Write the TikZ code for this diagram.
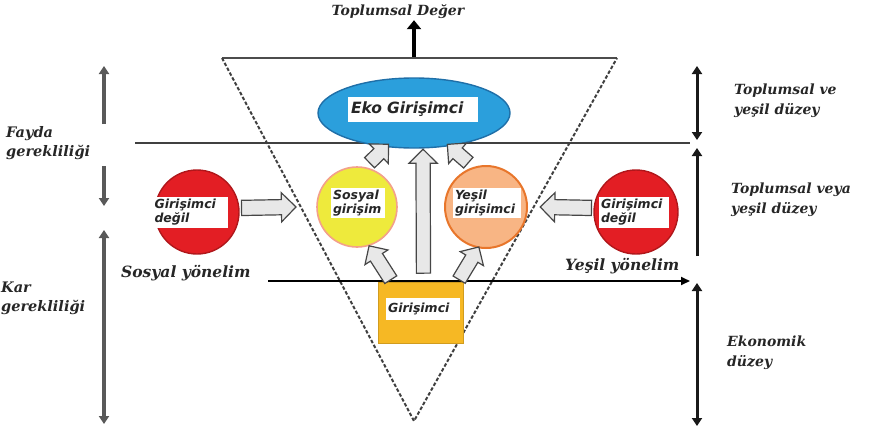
\documentclass[tikz,border=0pt]{standalone}
\usepackage{fontspec}
\setmainfont{DejaVu Serif}
\newfontfamily\lblfont{DejaVu Sans}
\usetikzlibrary{shapes.arrows,shapes.geometric,arrows.meta,calc}
\definecolor{ekoblue}{HTML}{2B9FDC}
\definecolor{ekoedge}{HTML}{1F6FA8}
\definecolor{redfill}{HTML}{E31E24}
\definecolor{rededge}{HTML}{B0171B}
\definecolor{yelfill}{HTML}{EEEA3C}
\definecolor{yeledge}{HTML}{F3A08A}
\definecolor{orfill}{HTML}{F8B584}
\definecolor{oredge}{HTML}{E8762B}
\definecolor{boxfill}{HTML}{F6B824}
\newcommand\blockarrow[3][]{%
  \path let \p1=(#2), \p2=(#3), \n1={atan2(\y2-\y1,\x2-\x1)}, \n2={veclen(\x2-\x1,\y2-\y1)} in
    node[barrow=\n2, rotate=\n1, #1] at ($(#2)!0.5!(#3)$) {};}
\begin{document}
\begin{tikzpicture}[x=1pt,y=-1pt,
  lbl/.style={font=\bfseries\itshape\fontsize{14}{20}\selectfont, align=left, inner sep=1pt, text=black!85},
  inlbl/.style={fill=white, font=\lblfont\bfseries\itshape\fontsize{12.5}{14}\selectfont, align=left, inner sep=2pt, text=black!85},
  arr/.style={-{Triangle[length=8pt,width=10pt]}},
  darr/.style={{Triangle[length=8pt,width=10pt]}-{Triangle[length=8pt,width=10pt]}},
  dimL/.style={line width=3.2pt, draw=black!65},
  dimR/.style={line width=3pt, draw=black!90},
  barrow/.style={single arrow, draw=gray!55!black, fill=gray!18, line width=1.2pt, inner xsep=0pt, inner ysep=7pt, single arrow head extend=7pt, minimum height=#1},
  tri/.style={draw=black!75, line width=2pt, dash pattern=on 3.5pt off 2pt}
]
\useasboundingbox (0,0) rectangle (877,431);

% triangle
\coordinate (tl) at (222,58);
\coordinate (tr) at (617,58);
\coordinate (tb) at (414,421);
\draw[draw=black!70, line width=1.8pt] (tl) -- (tr);
\draw[tri] (tl) -- (tb) -- (tr);

% top arrow
\node[lbl] (tv) at (398,12) {Toplumsal Değer};
\coordinate (tm) at (414,57);
\draw[line width=4.5pt, -{Triangle[length=9pt,width=14pt]}] (tm) -- (tv.south -| tm);

% horizontal divider
\coordinate (hl) at (135,143);
\coordinate (hr) at (690,143);
\draw[draw=black!75, line width=1.8pt] (hl) -- (hr);

% Eko Girisimci ellipse
\node[ellipse, fill=ekoblue, draw=ekoedge, line width=1.4pt, minimum width=192pt, minimum height=70pt] (eko) at (414,113) {};
\node[inlbl, font=\lblfont\bfseries\itshape\fontsize{15.5}{17}\selectfont, minimum width=130pt, minimum height=25pt, text width=124pt] (ekot) at (413,109) {Eko Girişimci};

% red circles
\node[circle, fill=redfill, draw=rededge, line width=1.4pt, minimum size=84pt, inner sep=0] (lr) at (197,212) {};
\node[inlbl, text width=71pt, minimum height=31pt] (lrt) at (190,212) {Girişimci\\değil};
\node[circle, fill=redfill, draw=rededge, line width=1.4pt, minimum size=84pt, inner sep=0] (rr) at (636,212) {};
\node[inlbl, text width=66pt, minimum height=31pt] (rrt) at (634,212) {Girişimci\\değil};

% yellow circle
\node[circle, fill=yelfill, draw=yeledge, line width=1.6pt, minimum size=80pt, inner sep=0] (yc) at (357,207) {};
\node[inlbl, text width=50pt] (yct) at (358,203) {Sosyal\\girişim};

% orange circle
\node[circle, fill=orfill, draw=oredge, line width=2pt, minimum size=82pt, inner sep=0] (oc) at (486,207) {};
\node[inlbl, text width=64pt] (oct) at (487,203) {Yeşil\\girişimci};

% Girisimci box
\node[rectangle, fill=boxfill, draw=boxfill!85!black, line width=0.6pt, minimum width=85pt, minimum height=61pt, inner sep=0] (gb) at (420.5,312.5) {};
\node[inlbl, text width=70pt, minimum height=22pt] (gbt) at (423,309) {Girişimci};

% yonelim line
\node[lbl, anchor=west, font=\bfseries\itshape\fontsize{15.5}{18}\selectfont] (sy) at (120,273) {Sosyal yönelim};
\node[lbl, anchor=west, font=\bfseries\itshape\fontsize{15.5}{18}\selectfont] (gy) at (564,266) {Yeşil yönelim};
\coordinate (yl) at (268,281);
\coordinate (yr) at (690,281);
\draw[line width=1.8pt, -{Triangle[length=9pt,width=8pt]}] (yl) -- (yr);

% block arrows
\coordinate (a1s) at ($(lr.east)+(-2,-4)$);
\coordinate (a1e) at ($(yc.west)+(-24,-0)$);
\blockarrow{a1s}{a1e}
\coordinate (a2s) at ($(rr.west)+(2,-4)$);
\coordinate (a2e) at ($(oc.east)+(16,0)$);
\blockarrow{a2s}{a2e}
\coordinate (a3s) at ($(gb.north)+(3,-5)$);
\coordinate (a3e) at ($(eko.south)+(9,4)$);
\blockarrow[inner ysep=6.5pt]{a3s}{a3e}
\coordinate (a4s) at ($(gb.north west)+(15,1)$);
\coordinate (a4e) at ($(yc.south)+(14,1)$);
\blockarrow[inner ysep=6.5pt, single arrow head extend=6.5pt]{a4s}{a4e}
\coordinate (a5s) at ($(gb.north east)+(-6,1)$);
\coordinate (a5e) at ($(oc.south)+(-9,1)$);
\blockarrow[inner ysep=6.5pt, single arrow head extend=6.5pt]{a5s}{a5e}
\coordinate (a6s) at ($(yc.north)+(10,-1)$);
\coordinate (a6e) at ($(eko.south)+(-28,-2)$);
\blockarrow[inner ysep=6.5pt, single arrow head extend=6.5pt]{a6s}{a6e}
\coordinate (a7s) at ($(oc.north)+(-15,0)$);
\coordinate (a7e) at ($(eko.south)+(36,-2)$);
\blockarrow[inner ysep=6.5pt, single arrow head extend=6.5pt]{a7s}{a7e}

% left dimension arrows
\node[lbl, anchor=west, font=\bfseries\itshape\fontsize{14.5}{19}\selectfont] (fg) at (5,143) {Fayda\\gerekliliği};
\node[lbl, anchor=west, font=\bfseries\itshape\fontsize{14.5}{19}\selectfont] (kg) at (0,298) {Kar\\gerekliliği};
\coordinate (l1) at (104,66);
\coordinate (l2) at (104,124);
\coordinate (l3) at (104,166);
\coordinate (l4) at (104,206);
\coordinate (l5) at (104,230);
\coordinate (l6) at (104,424);
\draw[dimL, arr] (l2) -- (l1);
\draw[dimL, arr] (l3) -- (l4);
\draw[dimL, darr] (l5) -- (l6);

% right dimension arrows
\node[lbl, anchor=west] (r1t) at (733,101) {Toplumsal ve\\yeşil düzey};
\node[lbl, anchor=west] (r2t) at (730,200) {Toplumsal veya\\yeşil düzey};
\node[lbl, anchor=west] (r3t) at (726,353) {Ekonomik\\düzey};
\coordinate (r1) at (697,66);
\coordinate (r2) at (697,140);
\coordinate (r3) at (697,148);
\coordinate (r4) at (697,256);
\coordinate (r5) at (697,283);
\coordinate (r6) at (697,426);
\draw[dimR, darr] (r1) -- (r2);
\draw[dimR, arr] (r4) -- (r3);
\draw[dimR, darr] (r5) -- (r6);
\end{tikzpicture}
\end{document}
